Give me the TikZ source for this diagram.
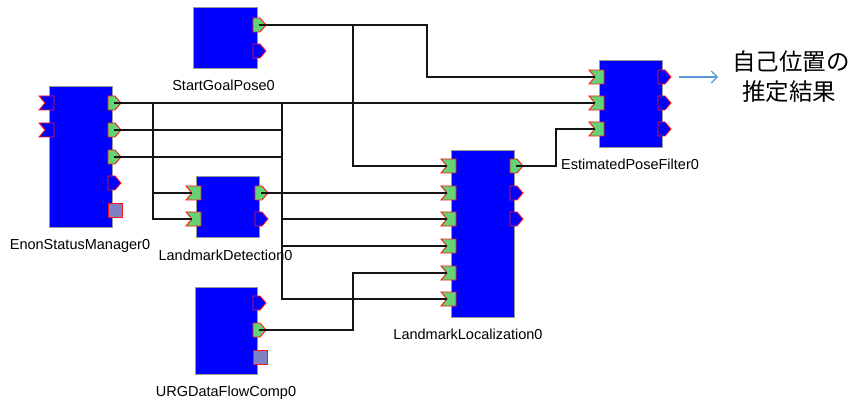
\documentclass[tikz,border=0pt]{standalone}
\usepackage{fontspec}
\setmainfont{Liberation Sans}
\newfontfamily\jpfont{Noto Sans CJK JP}
\usetikzlibrary{arrows.meta}
\definecolor{compblue}{RGB}{0,0,255}
\definecolor{portgreen}{RGB}{98,212,118}
\definecolor{portsq}{RGB}{128,128,196}
\definecolor{portred}{RGB}{255,20,20}
\definecolor{arrowblue}{RGB}{91,155,213}
\definecolor{wirecol}{RGB}{20,20,20}
\tikzset{
  comp/.style={draw=gray!80, line width=1pt, fill=compblue, inner sep=0pt},
  lbl/.style={anchor=base, inner sep=0pt, font=\fontsize{14.5}{17}\selectfont},
  jplbl/.style={anchor=base, inner sep=0pt, font=\jpfont\fontsize{23.5}{28}\selectfont},
  wire/.style={draw=wirecol, line width=1.2pt},
  pics/inport/.style={code={\filldraw[draw=portred, line width=0.9pt, fill=#1]
     (-10,-7) -- (5,-7) -- (5,7) -- (-10,7) -- (-4,0) -- cycle;}},
  pics/outport/.style={code={\filldraw[draw=portred, line width=0.9pt, fill=#1]
     (-4,-7) -- (3,-7) -- (9,0) -- (3,7) -- (-4,7) -- cycle;}},
  pics/sqport/.style={code={\filldraw[draw=portred, line width=0.9pt, fill=portsq]
     (-4,-7) rectangle (10,7);}}
}
\begin{document}
\begin{tikzpicture}[x=1pt,y=-1pt]
\fill[white] (0,0) rectangle (852,401);
\useasboundingbox (0,0) rectangle (852,401);

% component boxes
\node[comp, minimum width=63pt, minimum height=140pt] (esm) at (80.5,157) {};
\node[comp, minimum width=64pt, minimum height=61pt] (sgp) at (225,38.5) {};
\node[comp, minimum width=63pt, minimum height=60pt] (ld) at (227.5,207) {};
\node[comp, minimum width=62pt, minimum height=87pt] (urg) at (226,330.5) {};
\node[comp, minimum width=63pt, minimum height=166pt] (ll) at (482.5,234) {};
\node[comp, minimum width=63pt, minimum height=87pt] (epf) at (630.5,104.5) {};

% labels
\node[lbl] (esmL) at (80,249) {EnonStatusManager0};
\node[lbl] (sgpL) at (223.5,91) {StartGoalPose0};
\node[lbl] (ldL) at (225.5,260) {LandmarkDetection0};
\node[lbl] (urgL) at (226,396) {URGDataFlowComp0};
\node[lbl] (llL) at (468,339) {LandmarkLocalization0};
\node[lbl] (epfL) at (630,170) {EstimatedPoseFilter0};

% ports: EnonStatusManager0
\pic at (49,103) {inport=compblue};
\pic at (49,130) {inport=compblue};
\pic at (112,103) {outport=portgreen};
\pic at (112,130) {outport=portgreen};
\pic at (112,157) {outport=portgreen};
\pic at (112,183) {outport=compblue};
\pic at (112,210) {sqport};
% StartGoalPose0
\pic at (257,25) {outport=portgreen};
\pic at (257,51) {outport=compblue};
% LandmarkDetection0
\pic at (196,193) {inport=portgreen};
\pic at (196,219) {inport=portgreen};
\pic at (259,193) {outport=portgreen};
\pic at (259,219) {outport=compblue};
% URGDataFlowComp0
\pic at (257,303) {outport=compblue};
\pic at (257,330) {outport=portgreen};
\pic at (257,357) {sqport};
% LandmarkLocalization0
\foreach \yy in {166,193,219,246,273,299} {\pic at (451,\yy) {inport=portgreen};}
\pic at (514,166) {outport=portgreen};
\pic at (514,193) {outport=compblue};
\pic at (514,219) {outport=compblue};
% EstimatedPoseFilter0
\pic at (599,77) {inport=portgreen};
\pic at (599,103) {inport=portgreen};
\pic at (599,129) {inport=portgreen};
\pic at (662,77) {outport=compblue};
\pic at (662,103) {outport=compblue};
\pic at (662,129) {outport=compblue};

% connection points
\coordinate (esm-o1) at (114,103);
\coordinate (esm-o2) at (114,130);
\coordinate (esm-o3) at (114,157);
\coordinate (sgp-o1) at (259,25);
\coordinate (ld-i1) at (192,193);
\coordinate (ld-i2) at (192,219);
\coordinate (ld-o1) at (261,193);
\coordinate (urg-o2) at (259,330);
\coordinate (ll-i1) at (447,166);
\coordinate (ll-i2) at (447,193);
\coordinate (ll-i3) at (447,219);
\coordinate (ll-i4) at (447,246);
\coordinate (ll-i5) at (447,273);
\coordinate (ll-i6) at (447,299);
\coordinate (ll-o1) at (516,166);
\coordinate (epf-i1) at (595,77);
\coordinate (epf-i2) at (595,103);
\coordinate (epf-i3) at (595,129);
% routing columns
\coordinate (c153) at (153,0);
\coordinate (c282) at (282,0);
\coordinate (c353) at (353,0);
\coordinate (c427) at (427,0);
\coordinate (c556) at (556,0);

% wires
\draw[wire] (sgp-o1) -- (sgp-o1 -| c427) |- (epf-i1);
\draw[wire] (sgp-o1) -- (sgp-o1 -| c353) |- (ll-i1);
\draw[wire] (esm-o1) -- (epf-i2);
\draw[wire] (esm-o1) -- (esm-o1 -| c153) |- (ld-i1);
\draw[wire] (esm-o1) -- (esm-o1 -| c153) |- (ld-i2);
\draw[wire] (esm-o1) -- (esm-o1 -| c282) |- (ll-i6);
\draw[wire] (esm-o2) -- (esm-o2 -| c282) |- (ll-i3);
\draw[wire] (esm-o3) -- (esm-o3 -| c282) |- (ll-i4);
\draw[wire] (ld-o1) -- (ll-i2);
\draw[wire] (urg-o2) -- (urg-o2 -| c353) |- (ll-i5);
\draw[wire] (ll-o1) -- (ll-o1 -| c556) |- (epf-i3);

% output arrow and result text
\coordinate (arrS) at (679,77);
\coordinate (arrE) at (718,77);
\draw[arrowblue, line width=1.1pt, -{Straight Barb[length=6pt,width=12pt]}] (arrS) -- (arrE);
\node[jplbl] (res1) at (791,71) {自己位置の};
\node[jplbl] (res2) at (789,101) {推定結果};
\end{tikzpicture}
\end{document}
